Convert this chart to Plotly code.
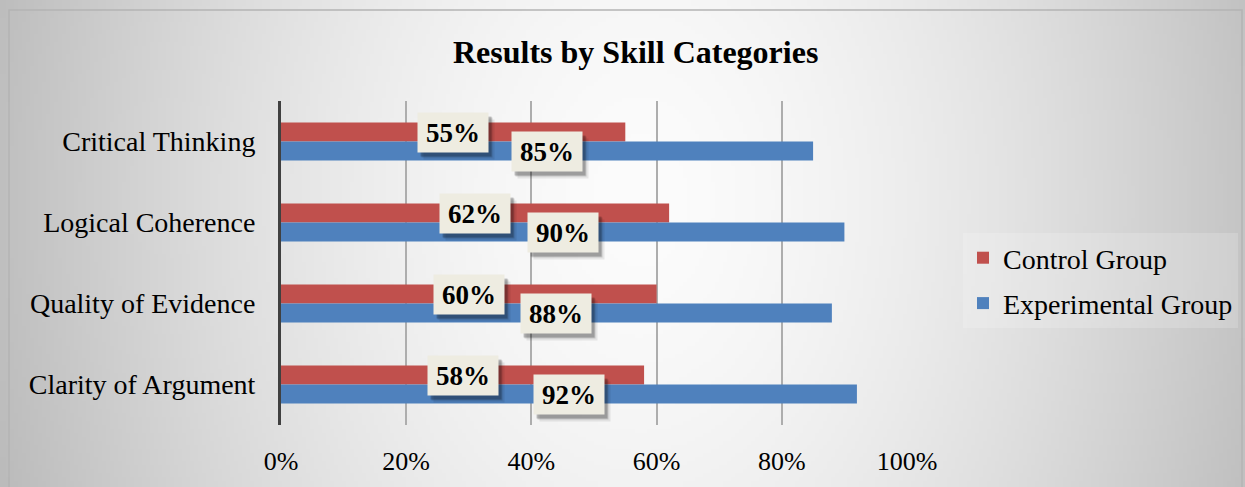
import base64, struct, zlib
import numpy as np
import plotly.graph_objects as go

# ---- data ----
categories = ["Critical Thinking", "Logical Coherence", "Quality of Evidence", "Clarity of Argument"]
control_values = [55, 62, 60, 58]
experimental_values = [85, 90, 88, 92]
series_names = ["Control Group", "Experimental Group"]
x_tick_values = [0, 20, 40, 60, 80, 100]
x_tick_labels = ["0%", "20%", "40%", "60%", "80%", "100%"]
title_text = "Results by Skill Categories"

W, H = 1245, 487
RED = "#C0504D"
BLUE = "#4F81BD"
FONT = "Liberation Serif"


def gradient_png(w, h):
    xs = np.linspace(0, W, w)
    ys = np.linspace(0, H, h)
    X, Y = np.meshgrid(xs, ys)
    d = np.sqrt(((X - 640) / 640.0) ** 2 + ((Y - 200) / 900.0) ** 2)
    d = np.clip(d, 0, 1.2)
    g = 252 - 60 * d ** 1.6
    g = np.clip(g, 0, 255).astype(np.uint8)
    raw = b"".join(b"\x00" + row.tobytes() for row in g)

    def chunk(t, data):
        c = struct.pack(">I", len(data)) + t + data
        return c + struct.pack(">I", zlib.crc32(t + data) & 0xFFFFFFFF)

    png = b"\x89PNG\r\n\x1a\n"
    png += chunk(b"IHDR", struct.pack(">IIBBBBB", w, h, 8, 0, 0, 0, 0))
    png += chunk(b"IDAT", zlib.compress(raw, 9))
    png += chunk(b"IEND", b"")
    return "data:image/png;base64," + base64.b64encode(png).decode()


fig = go.Figure()
fig.add_trace(go.Bar(y=categories, x=control_values, name=series_names[0], orientation="h",
                     marker=dict(color=RED, line=dict(width=0)), legendgroup="a"))
fig.add_trace(go.Bar(y=categories, x=experimental_values, name=series_names[1], orientation="h",
                     marker=dict(color=BLUE, line=dict(width=0)), legendgroup="b"))

annotations = []
for vals, shift in ((control_values, 9.5), (experimental_values, -10)):
    for cat, v in zip(categories, vals):
        # shadow layers
        for dx, dy, a in ((6, -7, 0.08), (4, -5, 0.14), (3, -4, 0.2)):
            annotations.append(dict(x=v / 2, y=cat, xref="x", yref="y", text=" ", showarrow=False,
                                    width=66, height=35, borderpad=2, bgcolor=f"rgba(0,0,0,{a})",
                                    xshift=dx, yshift=shift + dy, font=dict(size=26, family=FONT)))
    for cat, v in zip(categories, vals):
        annotations.append(dict(x=v / 2, y=cat, xref="x", yref="y", text=f"<b>{v}%</b>", showarrow=False,
                                width=66, height=35, borderpad=2, bgcolor="#EEECE1",
                                yshift=shift, font=dict(size=27, family=FONT, color="black")))

annotations.append(dict(x=635 / W, y=1 - 52 / H, xref="paper", yref="paper", text=f"<b>{title_text}</b>",
                        showarrow=False, xanchor="center", yanchor="middle",
                        font=dict(size=32, family=FONT, color="black")))

fig.update_layout(
    width=W, height=H,
    margin=dict(l=0, r=0, t=0, b=0, autoexpand=False),
    paper_bgcolor="white",
    plot_bgcolor="rgba(0,0,0,0.035)",
    barmode="group",
    bargap=0.53,
    bargroupgap=0,
    font=dict(family=FONT, color="black"),
    showlegend=True,
    legend=dict(x=963 / W, y=1 - 233 / H, xanchor="left", yanchor="top",
                bgcolor="rgba(255,255,255,0.18)", font=dict(size=28, family=FONT),
                itemwidth=30, tracegroupgap=6, traceorder="grouped"),
    xaxis=dict(domain=[281 / W, 907 / W], range=[0, 100], tickvals=x_tick_values, ticktext=x_tick_labels,
               showgrid=True, gridcolor="#ADADAD", gridwidth=1.5, zeroline=False, showline=False,
               ticks="", tickfont=dict(size=26, family=FONT), ticklabelstandoff=18, fixedrange=True,
               automargin=False),
    yaxis=dict(domain=[1 - 425 / H, 1 - 101 / H], autorange="reversed", showgrid=False, zeroline=False,
               showline=True, linecolor="#404040", linewidth=3, ticks="",
               tickfont=dict(size=28, family=FONT), ticklabelstandoff=17, fixedrange=True,
               automargin=False),
    annotations=annotations,
    images=[dict(source=gradient_png(311, 122), xref="paper", yref="paper", x=0, y=1, sizex=1, sizey=1,
                 xanchor="left", yanchor="top", sizing="stretch", layer="below")],
    shapes=[dict(type="rect", xref="paper", yref="paper", x0=9 / W, x1=1242 / W, y0=-0.02, y1=1 - 10 / H,
                 line=dict(color="#B4B4B4", width=1.5), fillcolor="rgba(0,0,0,0)", layer="above")],
)

fig.write_html("out.html")
